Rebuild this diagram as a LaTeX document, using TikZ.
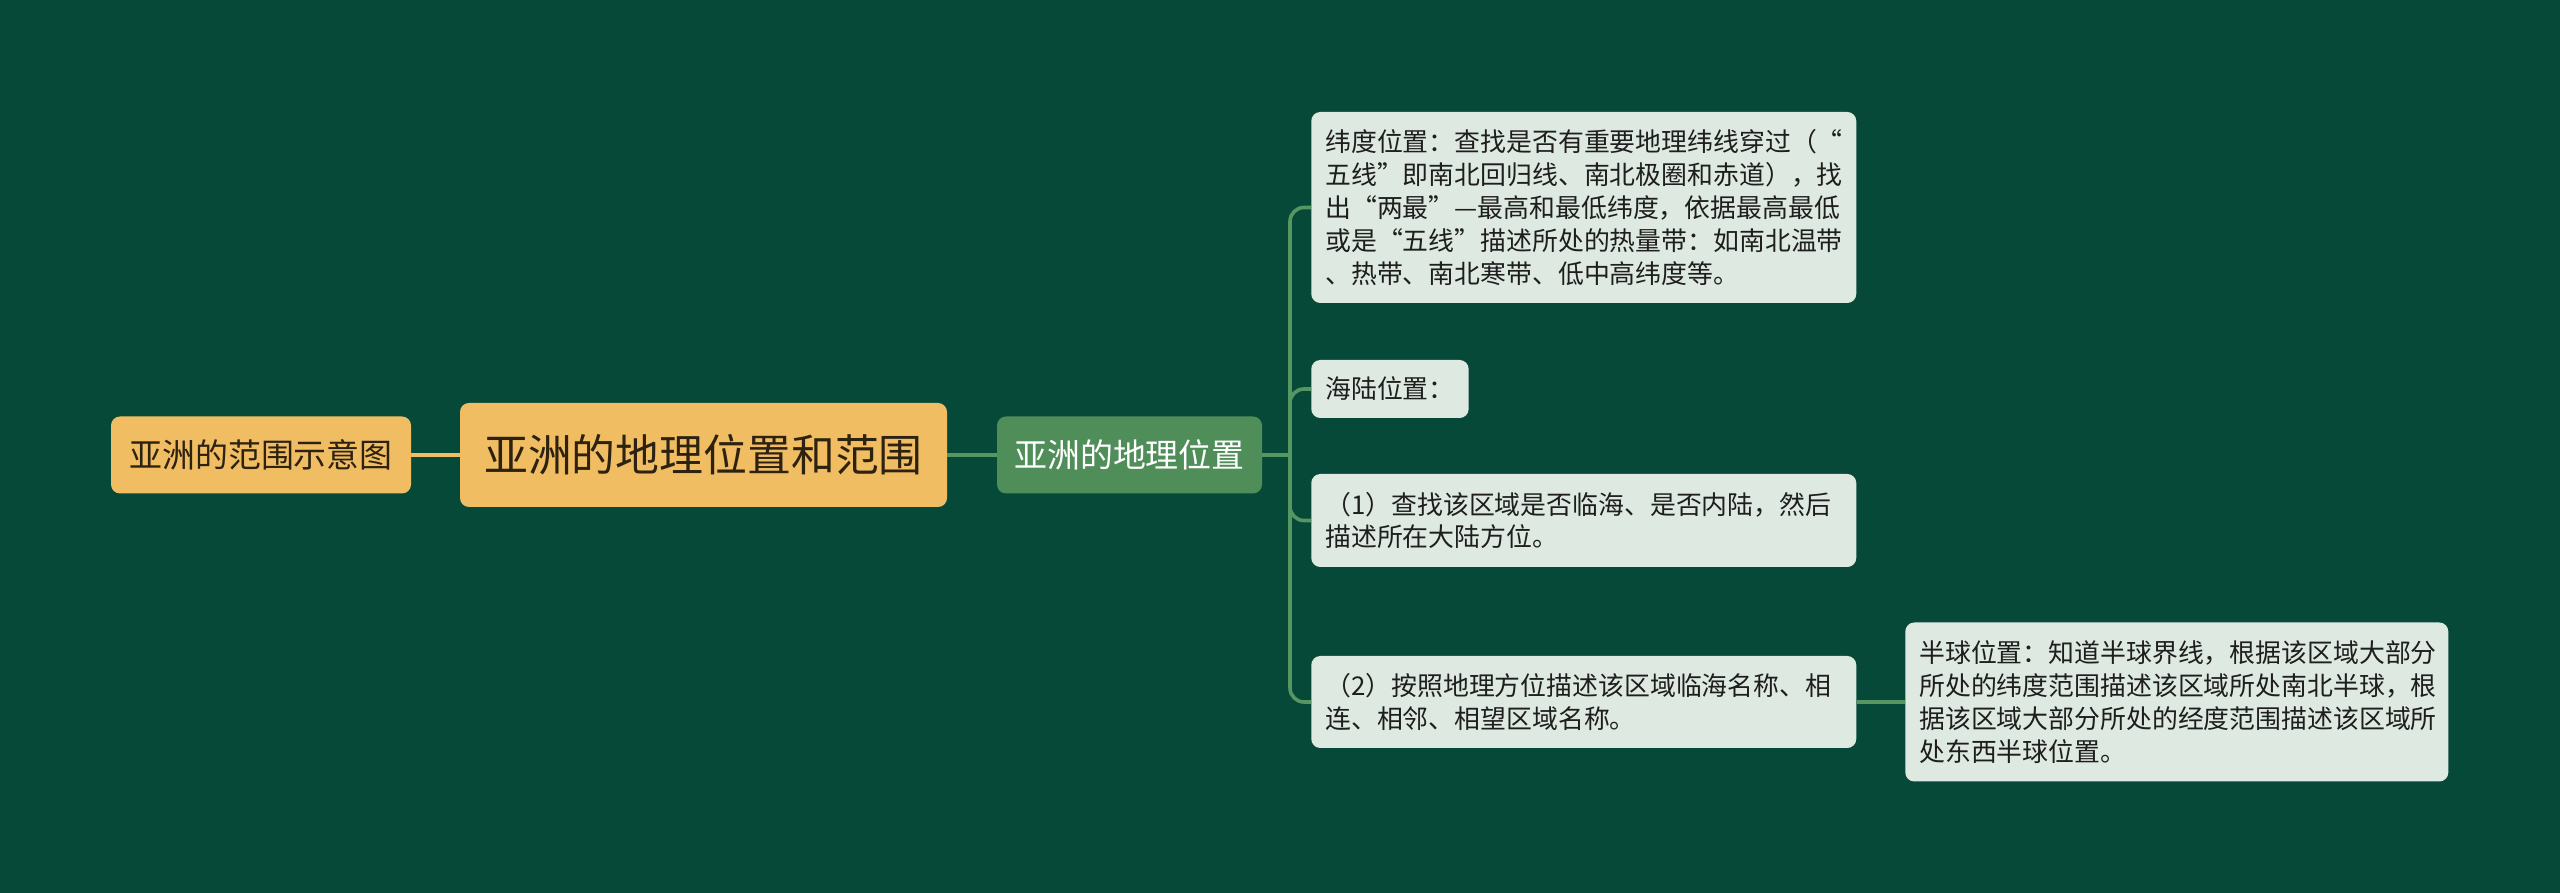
\documentclass[tikz,border=0pt]{standalone}
\usepackage{fontspec}
\setmainfont{Noto Sans CJK SC}

\tikzset{
  topic/.style={
    rectangle,
    rounded corners=0.09in,
    fill={rgb,255:red,240;green,189;blue,99},
    text={rgb,255:red,45;green,33;blue,16},
    inner sep=0pt,
    align=center,
  },
  branch/.style={
    rectangle,
    rounded corners=0.09in,
    fill={rgb,255:red,79;green,141;blue,89},
    text=white,
    inner sep=0pt,
    align=center,
  },
  leaf/.style={
    rectangle,
    rounded corners=0.09in,
    fill={rgb,255:red,222;green,233;blue,225},
    text={rgb,255:red,30;green,30;blue,30},
    inner xsep=0.14in,
    inner ysep=0pt,
    align=left,
    anchor=west,
    font=\fontsize{18.7}{23.8}\selectfont,
  },
  link/.style={
    line width=2.6pt,
    color={rgb,255:red,86;green,150;blue,98},
  },
}

\begin{document}
\begin{tikzpicture}
  \fill[fill={rgb,255:red,6;green,73;blue,56}] (0, 0) rectangle (25.6in, 8.93in);

  \node[
    topic,
    minimum width=4.87in,
    minimum height=1.04in,
    font=\fontsize{31.7}{36}\selectfont,
  ] (root) at (7.035in,4.38in) {亚洲的地理位置和范围};

  \node[
    topic,
    minimum width=3.00in,
    minimum height=0.77in,
    font=\fontsize{23.8}{28}\selectfont,
  ] (map) at (2.61in,4.38in) {亚洲的范围示意图};

  \node[
    branch,
    minimum width=2.65in,
    minimum height=0.77in,
    font=\fontsize{23.8}{28}\selectfont,
  ] (pos) at (11.295in,4.38in) {亚洲的地理位置};

  \node[leaf, text width=5.17in, minimum height=1.91in] (lat) at (13.11in,6.855in) {
    纬度位置：查找是否有重要地理纬线穿过（“\\
    五线”即南北回归线、南北极圈和赤道），找\\
    出“两最”—最高和最低纬度，依据最高最低\\
    或是“五线”描述所处的热量带：如南北温带\\
    、热带、南北寒带、低中高纬度等。
  };

  \node[leaf, minimum height=0.58in] (sea) at (13.11in,5.04in) {海陆位置：};

  \node[leaf, text width=5.17in, minimum height=0.93in] (one) at (13.11in,3.725in) {
    （1）查找该区域是否临海、是否内陆，然后\\
    描述所在大陆方位。
  };

  \node[leaf, text width=5.17in, minimum height=0.92in] (two) at (13.11in,1.91in) {
    （2）按照地理方位描述该区域临海名称、相\\
    连、相邻、相望区域名称。
  };

  \node[leaf, text width=5.15in, minimum height=1.59in] (hemi) at (19.05in,1.91in) {
    半球位置：知道半球界线，根据该区域大部分\\
    所处的纬度范围描述该区域所处南北半球，根\\
    据该区域大部分所处的经度范围描述该区域所\\
    处东西半球位置。
  };

  \coordinate (bus) at (12.90in,4.38in);

  \draw[link,color={rgb,255:red,240;green,189;blue,99}] (map) -- (root);
  \draw[link] (root) -- (pos);
  \draw[link] (pos.east) -- (bus);
  \draw[link,rounded corners=0.14in] (bus) |- (lat.west);
  \draw[link,rounded corners=0.14in] (bus) |- (sea.west);
  \draw[link,rounded corners=0.14in] (bus) |- (one.west);
  \draw[link,rounded corners=0.14in] (bus) |- (two.west);
  \draw[link] (two.east) -- (hemi.west);
\end{tikzpicture}
\end{document}
